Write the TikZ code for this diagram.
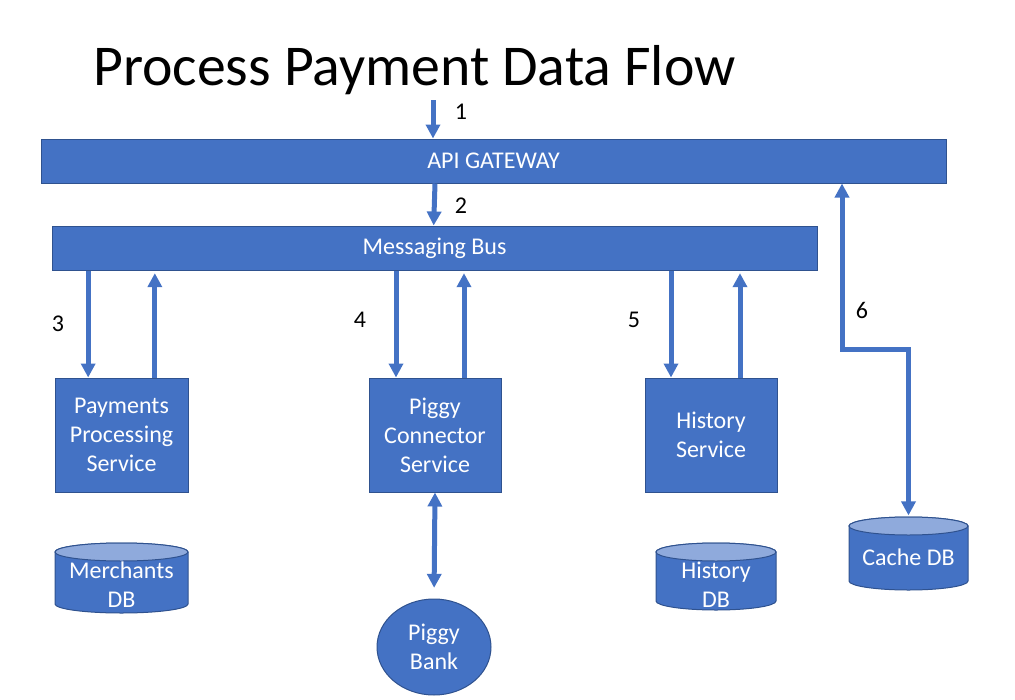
\documentclass[tikz,border=0pt]{standalone}
\usepackage{fontspec}
\setmainfont{Carlito}
\usetikzlibrary{arrows.meta,shapes.geometric}
\definecolor{officeblue}{HTML}{4472C4}
\definecolor{officeedge}{HTML}{2F528F}
\definecolor{officelight}{HTML}{8FAADC}
\begin{document}
\begin{tikzpicture}[x=0.75pt, y=-0.75pt, font=\fontsize{18}{21.8}\selectfont,
		box/.style={draw=officeedge, fill=officeblue, text=white, line width=0.75pt, inner sep=0pt, align=center},
		dbbody/.style={draw=officeedge, fill=officeblue, line width=0.75pt},
		dbtop/.style={draw=officeedge, fill=officelight, line width=0.75pt},
		dbtext/.style={text=white, inner sep=0pt, align=center},
		flow/.style={draw=officeblue, line width=3.75pt, -{Triangle[width=10.5pt,length=10.5pt]}},
		both/.style={flow, {Triangle[width=10.5pt,length=10.5pt]}-{Triangle[width=10.5pt,length=10.5pt]}}]
		\useasboundingbox (0,0) rectangle (1015,700);
		\node[anchor=base west, inner sep=0pt, font=\fontsize{43.3}{52}\selectfont] (title) at (93,85) {Process Payment Data Flow};
		% gateway and bus
		\node[box, minimum width=678.75pt, minimum height=33pt] (api) at (493.5,161) {API GATEWAY};
		\node[box, minimum width=573.75pt, minimum height=33pt] (bus) at (434.5,248) {Messaging Bus};
		% services
		\node[box, minimum width=99.75pt, minimum height=85.5pt] (pps) at (121.5,435) {Payments\\Processing\\Service};
		\node[box, minimum width=99pt, minimum height=85.5pt] (pcs) at (435,435) {Piggy\\Connector\\Service};
		\node[box, minimum width=99pt, minimum height=85.5pt] (hist) at (711,435) {History\\Service};
		% stores (cylinders)
		\foreach \n/\cx/\cy/\w/\h/\d/\t in {merch/121.5/578/133/70/7/{Merchants\\DB}, histdb/716/576.5/120/67/8/{History\\DB}, cache/908.5/553.5/119/73/4/{Cache DB}}{
			\filldraw[dbbody] ({\cx-\w/2},{\cy+\h/2-9}) arc[start angle=180, end angle=360, x radius=\w*0.375pt, y radius=6.75pt]
				-- ({\cx+\w/2},{\cy-\h/2+9}) arc[start angle=0, end angle=180, x radius=\w*0.375pt, y radius=6.75pt] -- cycle;
			\filldraw[dbtop] (\cx,{\cy-\h/2+9}) ellipse[x radius=\w*0.375pt, y radius=6.75pt];
			\node[inner sep=0pt, minimum width=\w*0.75pt, minimum height=\h*0.75pt] (\n) at (\cx,\cy) {};
			\node[dbtext] (\n-t) at (\cx,\cy+\d) {\t};
		}
		\node[ellipse, draw=officeedge, fill=officeblue, text=white, line width=0.75pt, inner sep=0pt, align=center,
			minimum width=85.5pt, minimum height=72pt] (bank) at (434,647) {Piggy\\Bank};
		% flows
		\coordinate (in) at (433,100);
		\draw[flow] (in) -- (in |- api.north);
		\draw[flow] ([xshift=1.5pt]in |- api.south) -- ([xshift=0.5pt]in |- bus.north);
		\foreach \s/\l/\r in {pps/-25/25, pcs/-29.25/21.75, hist/-30/21.75}{
			\draw[flow] ([xshift=\l pt]\s.north |- bus.south) -- ([xshift=\l pt]\s.north);
			\draw[flow] ([xshift=\r pt]\s.north) -- ([xshift=\r pt,yshift=-2pt]\s.north |- bus.south);
		}
		\draw[both, shorten >=8pt] (pcs.south) -- (bank.north);
		\coordinate (bend) at (842,349);
		\draw[both, shorten <=1pt] (cache.north) |- (bend) -- (bend |- api.south);
		% step numbers
		\node (n1) at (461,112) {1};
		\node (n2) at (461,206) {2};
		\node (n3) at (58,324) {3};
		\node (n4) at (360,320) {4};
		\node (n5) at (634,320) {5};
		\node (n6) at (862,310) {6};
\end{tikzpicture}
\end{document}
